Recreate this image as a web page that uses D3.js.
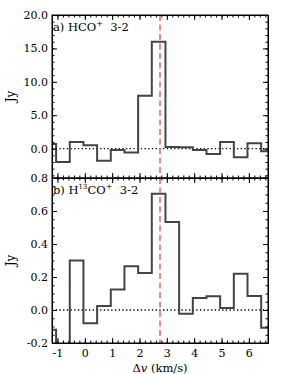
<!DOCTYPE html>
<html>
<head>
<meta charset="utf-8">
<script src="https://cdn.jsdelivr.net/npm/d3@7"></script>
<style>
  body { margin: 0; background: #fff; }
  svg text { font-family: "DejaVu Serif", serif; fill: #000; }
</style>
</head>
<body>
<script>
// bin centres (km/s), 0.5 km/s channels
const velocity = [-1.3, -0.8, -0.3, 0.2, 0.7, 1.2, 1.7, 2.2, 2.7, 3.2, 3.7, 4.2, 4.7, 5.2, 5.7, 6.2, 6.7];
const hcoFlux = [0.7, -2.0, 1.0, 0.5, -1.8, -0.2, -0.6, 7.9, 16.0, 0.25, 0.2, -0.2, -0.8, 1.0, -1.3, 0.8, -0.4];
const h13coFlux = [-0.12, -0.35, 0.30, -0.08, 0.025, 0.125, 0.265, 0.225, 0.705, 0.534, -0.023, 0.072, 0.084, 0.012, 0.22, 0.085, -0.108];
const vSystemic = 2.75;
const xTicks = [-1, 0, 1, 2, 3, 4, 5, 6];
const topTicks = [0, 5, 10, 15, 20];
const bottomTicks = [-0.2, 0, 0.2, 0.4, 0.6, 0.8];

const w = 299, h = 374;
const left = 52, right = 268;
const binHalf = 0.25;

const svg = d3.select("body").append("svg")
  .attr("width", w).attr("height", h);

const x = d3.scaleLinear().domain([-1.2, 6.7]).range([left, right]);

const panels = [
  { id: "a", top: 15, bottom: 178, domain: [-4.4, 20], data: hcoFlux, ticks: topTicks, minor: 1,
    fmt: d3.format(".1f"), skipLabel: d => d < 0 },
  { id: "b", top: 178, bottom: 343, domain: [-0.2, 0.8], data: h13coFlux, ticks: bottomTicks, minor: 0.05,
    fmt: d => d3.format(".1f")(d).replace("\u2212", "-"), skipLabel: d => false }
];

panels.forEach(function(p) {
  const y = d3.scaleLinear().domain(p.domain).range([p.bottom, p.top]);
  const g = svg.append("g");

  g.append("clipPath").attr("id", "clip-" + p.id)
    .append("rect").attr("x", left).attr("y", p.top)
    .attr("width", right - left).attr("height", p.bottom - p.top);

  const plot = g.append("g").attr("clip-path", "url(#clip-" + p.id + ")");

  // zero line
  plot.append("line")
    .attr("x1", left).attr("x2", right)
    .attr("y1", y(0)).attr("y2", y(0))
    .attr("stroke", "#000").attr("stroke-width", 1.3)
    .attr("stroke-dasharray", "1.3,2.4");

  // stepped spectrum
  const pts = velocity.map((v, i) => [v - binHalf, p.data[i]]);
  pts.push([velocity[velocity.length - 1] + binHalf, p.data[p.data.length - 1]]);
  plot.append("path")
    .datum(pts)
    .attr("fill", "none")
    .attr("stroke", "#444")
    .attr("stroke-width", 2)
    .attr("d", d3.line().x(d => x(d[0])).y(d => y(d[1])).curve(d3.curveStepAfter));

  // systemic velocity
  plot.append("line")
    .attr("x1", x(vSystemic)).attr("x2", x(vSystemic))
    .attr("y1", p.top).attr("y2", p.bottom)
    .attr("stroke", "#ff5c5c").attr("stroke-width", 1.5)
    .attr("stroke-dasharray", "6,3.5");

  // minor + major ticks, inward on all sides
  const xMinor = d3.range(-1.2, 6.71, 0.2).map(v => +v.toFixed(1));
  const yMinor = d3.range(p.domain[0], p.domain[1] + 1e-9, p.minor)
    .map(v => Math.round(v / p.minor) * p.minor)
    .filter(v => v >= p.domain[0] && v <= p.domain[1]);

  g.append("g").attr("transform", "translate(0," + p.bottom + ")")
    .call(d3.axisBottom(x).tickValues(xMinor).tickSize(-2.5).tickFormat(""));
  g.append("g").attr("transform", "translate(0," + p.bottom + ")")
    .call(d3.axisBottom(x).tickValues(xTicks).tickSize(-5)
      .tickFormat(p.id === "b" ? (d => d < 0 ? "-" + Math.abs(d) : d) : "").tickPadding(6));
  g.append("g").attr("transform", "translate(0," + p.top + ")")
    .call(d3.axisTop(x).tickValues(xMinor).tickSize(-2.5).tickFormat(""));
  g.append("g").attr("transform", "translate(0," + p.top + ")")
    .call(d3.axisTop(x).tickValues(xTicks).tickSize(-5).tickFormat(""));

  g.append("g").attr("transform", "translate(" + left + ",0)")
    .call(d3.axisLeft(y).tickValues(yMinor).tickSize(-2.5).tickFormat(""));
  g.append("g").attr("transform", "translate(" + left + ",0)")
    .call(d3.axisLeft(y).tickValues(p.ticks).tickSize(-5)
      .tickFormat(d => p.skipLabel(d) ? "" : p.fmt(d)).tickPadding(4));
  g.append("g").attr("transform", "translate(" + right + ",0)")
    .call(d3.axisRight(y).tickValues(yMinor).tickSize(-2.5).tickFormat(""));
  g.append("g").attr("transform", "translate(" + right + ",0)")
    .call(d3.axisRight(y).tickValues(p.ticks).tickSize(-5).tickFormat(""));

  g.selectAll(".domain").attr("stroke", "#000").attr("stroke-width", 1);
  g.selectAll(".tick line").attr("stroke", "#000");
  g.selectAll(".tick text").attr("font-family", "DejaVu Serif").attr("font-size", 11);

  // panel frame
  g.append("rect").attr("x", left).attr("y", p.top)
    .attr("width", right - left).attr("height", p.bottom - p.top)
    .attr("fill", "none").attr("stroke", "#000").attr("stroke-width", 1);

  // y label
  g.append("text")
    .attr("transform", "translate(15," + ((p.top + p.bottom) / 2) + ") rotate(-90)")
    .attr("text-anchor", "middle")
    .attr("font-size", 12)
    .text("Jy");

  // panel name
  const t = g.append("text").attr("x", left + 1).attr("y", p.top + 16).attr("font-size", 11.5);
  if (p.id === "a") {
    t.append("tspan").text("a) HCO");
    t.append("tspan").attr("dy", -5).attr("font-size", 8).text("+");
    t.append("tspan").attr("dy", 5).text("\u00a0 3-2");
  } else {
    t.append("tspan").text("b) H");
    t.append("tspan").attr("dy", -5).attr("font-size", 7).text("13");
    t.append("tspan").attr("dy", 5).text("CO");
    t.append("tspan").attr("dy", -5).attr("font-size", 8).text("+");
    t.append("tspan").attr("dy", 5).text("\u00a0 3-2");
  }
});

// x label
const xl = svg.append("text").attr("x", (left + right) / 2).attr("y", 372)
  .attr("text-anchor", "middle").attr("font-size", 11.5);
xl.append("tspan").text("\u0394");
xl.append("tspan").attr("font-style", "italic").text("v");
xl.append("tspan").text(" (km/s)");
</script>
</body>
</html>
